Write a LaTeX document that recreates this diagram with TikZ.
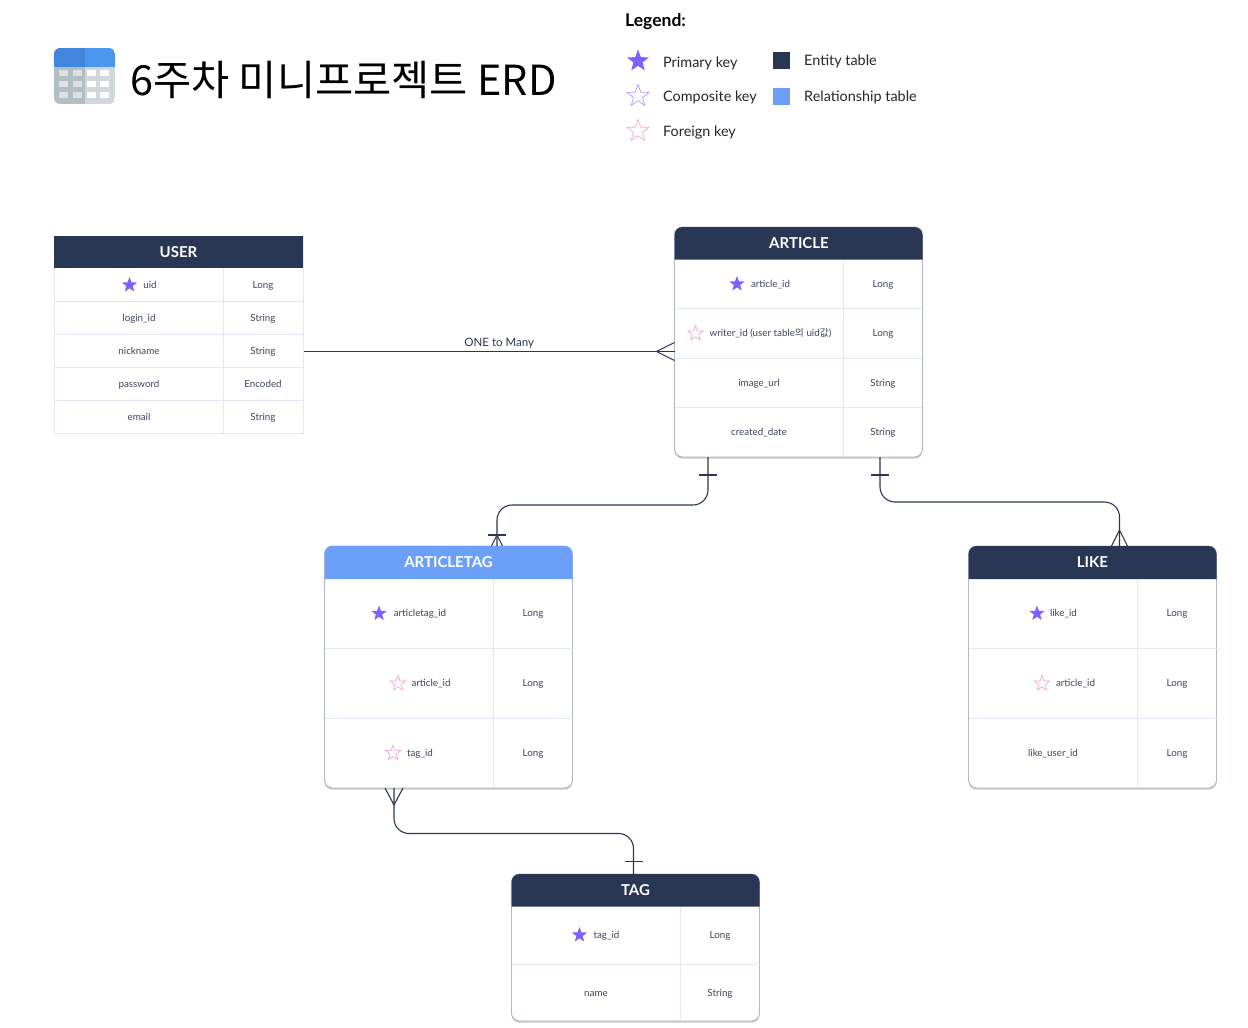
\documentclass[tikz,border=0pt]{standalone}
\usepackage{fontspec}
\setmainfont{Lato}
\newfontfamily\krfont{Noto Sans CJK KR}
\usepackage{tikz}
\usetikzlibrary{shapes.geometric,shadows}
\definecolor{entityblue}{RGB}{41,54,84}
\definecolor{relblue}{RGB}{108,160,248}
\definecolor{gridline}{RGB}{228,231,243}
\definecolor{cardline}{RGB}{176,182,204}
\definecolor{celltext}{RGB}{62,70,94}
\definecolor{pkviolet}{RGB}{123,97,255}
\definecolor{ckviolet}{RGB}{170,150,255}
\definecolor{fkpink}{RGB}{245,165,215}
\definecolor{iconslate}{RGB}{176,190,197}
\definecolor{iconpale}{RGB}{207,216,220}
\definecolor{icontopl}{RGB}{66,133,223}
\definecolor{icontopr}{RGB}{74,150,240}
% filled top band of a table: node, colour, height
\newcommand{\headband}[3]{%
    \fill[#2] ([yshift=-#3]#1.north west) [rounded corners=8pt] -- (#1.north west)
        -- (#1.north east) [sharp corners] -- ([yshift=-#3]#1.north east) -- cycle;}

\begin{document}
\begin{tikzpicture}[
    x=1pt, y=-1pt,
    card/.style={rectangle, draw=cardline, line width=0.9pt, fill=white, rounded corners=8pt,
        outer sep=0pt, inner sep=0pt, minimum width=248pt,
        drop shadow={shadow xshift=0pt, shadow yshift=-1.6pt, fill=black!40, opacity=0.55}},
    flatcard/.style={rectangle, draw=gridline, line width=0.9pt, fill=white,
        outer sep=0pt, inner sep=0pt, minimum width=249pt},
    headtxt/.style={font=\fontsize{15}{15}\selectfont\bfseries, text=white, yshift=-0.5pt},
    cell/.style={font=\fontsize{9.8}{10}\selectfont, text=celltext, text height=6.5pt, text depth=2pt, inner sep=0pt, yshift=-1pt},
    legendtxt/.style={anchor=west, font=\fontsize{14.4}{14}\selectfont, text=black!85, text height=9.5pt, text depth=3pt, inner sep=0pt, yshift=-2pt},
    pkstar/.style={star, star points=5, star point ratio=2.4, inner sep=0pt, minimum size=16pt, fill=pkviolet},
    ckstar/.style={star, star points=5, star point ratio=2.4, inner sep=0pt, minimum size=16pt, draw=ckviolet, line width=0.7pt},
    fkstar/.style={star, star points=5, star point ratio=2.4, inner sep=0pt, minimum size=16pt, draw=fkpink, line width=0.7pt},
    tabline/.style={draw=gridline, line width=0.9pt},
    rel/.style={draw=entityblue, line width=1.1pt},
    relbend/.style={rel, rounded corners=15pt}
]
    \useasboundingbox (0,0) rectangle (1248,1028);

    % title and icon
    \begin{scope}
        \clip[rounded corners=6pt] (54,48) rectangle (115,104);
        \fill[iconslate] (54,67) rectangle (85,104);
        \fill[iconpale] (85,67) rectangle (115,104);
        \fill[icontopl] (54,48) rectangle (85,67);
        \fill[icontopr] (85,48) rectangle (115,67);
    \end{scope}
    \foreach \y in {69.5,80.7,92} {
        \foreach \x in {59.3,72.7} \fill[black!12] (\x,\y) rectangle ++(9,6.3);
        \foreach \x in {86.5,100} \fill[white] (\x,\y) rectangle ++(9,6.3);
    }
    \node[anchor=west, inner sep=0pt, font=\krfont\fontsize{41.5}{42}\selectfont] (pagetitle) at (130,80) {6주차 미니프로젝트 ERD};

    % legend
    \node[anchor=west, inner sep=0pt, font=\fontsize{17.5}{18}\selectfont\bfseries] (legendhead) at (625,22) {Legend:};
    \node[pkstar, minimum size=23pt] (legpk) at (638,61) {};
    \node[ckstar, minimum size=23pt] (legck) at (638,96) {};
    \node[fkstar, minimum size=23pt] (legfk) at (638,131) {};
    \node[legendtxt] (legpktxt) at (663,62) {Primary key};
    \node[legendtxt] (legcktxt) at (663,96) {Composite key};
    \node[legendtxt] (legfktxt) at (663,131) {Foreign key};
    \fill[entityblue] (773,52) rectangle (790,69);
    \fill[relblue] (773,87.5) rectangle (790,104.5);
    \node[legendtxt] (legenttxt) at (804,60.5) {Entity table};
    \node[legendtxt] (legreltxt) at (804,96) {Relationship table};

    % USER
    \node[flatcard, minimum height=197pt] (user) at (178.5,334.5) {};
    \fill[entityblue] (user.north west) rectangle (303,268);
    \draw[tabline] (54,301) -- (303,301) (54,334) -- (303,334) (54,367) -- (303,367) (54,400) -- (303,400) (223,268) -- (223,433);
    \node[headtxt] (userhead) at (178.5,252) {USER};
    \node[pkstar] (uidstar) at (129.5,285) {};
    \node[cell] (uidname) at (150,285) {uid};
    \node[cell] (uidtype) at (263,285) {Long};
    \node[cell] (loginname) at (139,318) {login\_id};
    \node[cell] (logintype) at (263,318) {String};
    \node[cell] (nickname) at (139,351) {nickname};
    \node[cell] (nicktype) at (263,351) {String};
    \node[cell] (pwname) at (139,384) {password};
    \node[cell] (pwtype) at (263,384) {Encoded};
    \node[cell] (mailname) at (139,417) {email};
    \node[cell] (mailtype) at (263,417) {String};

    % ARTICLE
    \node[card, minimum height=230pt] (article) at (798.5,342) {};
    \headband{article}{entityblue}{32.5pt}
    \draw[tabline] (675,308.5) -- (922,308.5) (675,358) -- (922,358) (675,407.5) -- (922,407.5) (843.5,259.5) -- (843.5,457);
    \node[headtxt] (articlehead) at (799,243) {ARTICLE};
    \node[pkstar] (aidstar) at (737,284) {};
    \node[cell] (aidname) at (770.5,284) {article\_id};
    \node[cell] (aidtype) at (883,284) {Long};
    \node[fkstar] (writerstar) at (695.5,333.5) {};
    \node[cell] (writername) at (770.5,333.5) {writer\_id (user table{\krfont 의} uid{\krfont 값})};
    \node[cell] (writertype) at (883,333.5) {Long};
    \node[cell] (imgname) at (759,383) {image\_url};
    \node[cell] (imgtype) at (883,383) {String};
    \node[cell] (datename) at (759,432.5) {created\_date};
    \node[cell] (datetype) at (883,432.5) {String};

    % ARTICLETAG
    \node[card, minimum height=242pt] (articletag) at (448.5,667) {};
    \headband{articletag}{relblue}{33pt}
    \draw[tabline] (324.5,648.5) -- (572.5,648.5) (324.5,718.5) -- (572.5,718.5) (493,579) -- (493,788);
    \node[headtxt] (articletaghead) at (448.5,562) {ARTICLETAG};
    \node[pkstar] (atidstar) at (379,613.5) {};
    \node[cell] (atidname) at (420,613.5) {articletag\_id};
    \node[cell] (atidtype) at (533,613.5) {Long};
    \node[fkstar] (ataidstar) at (398,683.5) {};
    \node[cell] (ataidname) at (431,683.5) {article\_id};
    \node[cell] (ataidtype) at (533,683.5) {Long};
    \node[fkstar] (attidstar) at (393,753) {};
    \node[cell] (attidname) at (420,753) {tag\_id};
    \node[cell] (attidtype) at (533,753) {Long};

    % LIKE
    \node[card, minimum height=242pt] (like) at (1092.5,667) {};
    \headband{like}{entityblue}{33pt}
    \draw[tabline] (968.5,648.5) -- (1216.5,648.5) (968.5,718.5) -- (1216.5,718.5) (1137.5,579) -- (1137.5,788);
    \node[headtxt] (likehead) at (1092.5,562) {LIKE};
    \node[pkstar] (lidstar) at (1037,613.5) {};
    \node[cell] (lidname) at (1063.5,613.5) {like\_id};
    \node[cell] (lidtype) at (1177,613.5) {Long};
    \node[fkstar] (laidstar) at (1042,683.5) {};
    \node[cell] (laidname) at (1075.5,683.5) {article\_id};
    \node[cell] (laidtype) at (1177,683.5) {Long};
    \node[cell] (luidname) at (1053,753) {like\_user\_id};
    \node[cell] (luidtype) at (1177,753) {Long};

    % TAG
    \node[card, minimum height=147pt] (tag) at (635.5,947.5) {};
    \headband{tag}{entityblue}{32.5pt}
    \draw[tabline] (511.5,964) -- (759.5,964) (680,906.5) -- (680,1021);
    \node[headtxt] (taghead) at (635.5,889.5) {TAG};
    \node[pkstar] (tidstar) at (579.5,935) {};
    \node[cell] (tidname) at (606.5,935) {tag\_id};
    \node[cell] (tidtype) at (720,935) {Long};
    \node[cell] (tagname) at (596,993) {name};
    \node[cell] (tagtype) at (720,993) {String};

    % relations
    \draw[rel] ([shift={(1pt,-17pt)}]user.east) -- ([yshift=-9.5pt]article.west)
        node[pos=0.527, above=1.5pt, inner sep=1pt, font=\fontsize{11.5}{12}\selectfont, text=entityblue] (onemany) {ONE to Many};
    \coordinate (footw) at ([shift={(-18pt,-9.5pt)}]article.west);
    \draw[rel] (footw) -- ([yshift=-0.5pt]article.west) (footw) -- ([yshift=-18.5pt]article.west);

    \draw[relbend] ([xshift=-90.5pt]article.south) -- ++(0,48) -| ([xshift=48.5pt]articletag.north);
    \draw[rel] ([xshift=-99.5pt,yshift=-18pt]article.south) -- ++(18,0);
    \coordinate (foota) at ([xshift=48.5pt,yshift=11pt]articletag.north);
    \draw[rel] ([xshift=-9pt]foota) -- ++(18,0);
    \draw[rel] (foota) -- ([xshift=43pt]articletag.north) (foota) -- ([xshift=54pt]articletag.north);

    \draw[relbend] ([xshift=81.5pt]article.south) -- ++(0,45) -| ([xshift=27pt]like.north);
    \draw[rel] ([xshift=72.5pt,yshift=-18pt]article.south) -- ++(18,0);
    \coordinate (footl) at ([xshift=27pt,yshift=16pt]like.north);
    \draw[rel] (footl) -- ([xshift=19pt]like.north) (footl) -- ([xshift=35pt]like.north);

    \draw[relbend] ([xshift=-54.5pt]articletag.south) -- ++(0,45.5) -| ([xshift=-2pt]tag.north);
    \coordinate (foott) at ([xshift=-54.5pt,yshift=-17pt]articletag.south);
    \draw[rel] (foott) -- ([xshift=-63.5pt]articletag.south) (foott) -- ([xshift=-45.5pt]articletag.south);
    \draw[rel] ([xshift=-11pt,yshift=12.5pt]tag.north) -- ++(18,0);
\end{tikzpicture}
\end{document}
